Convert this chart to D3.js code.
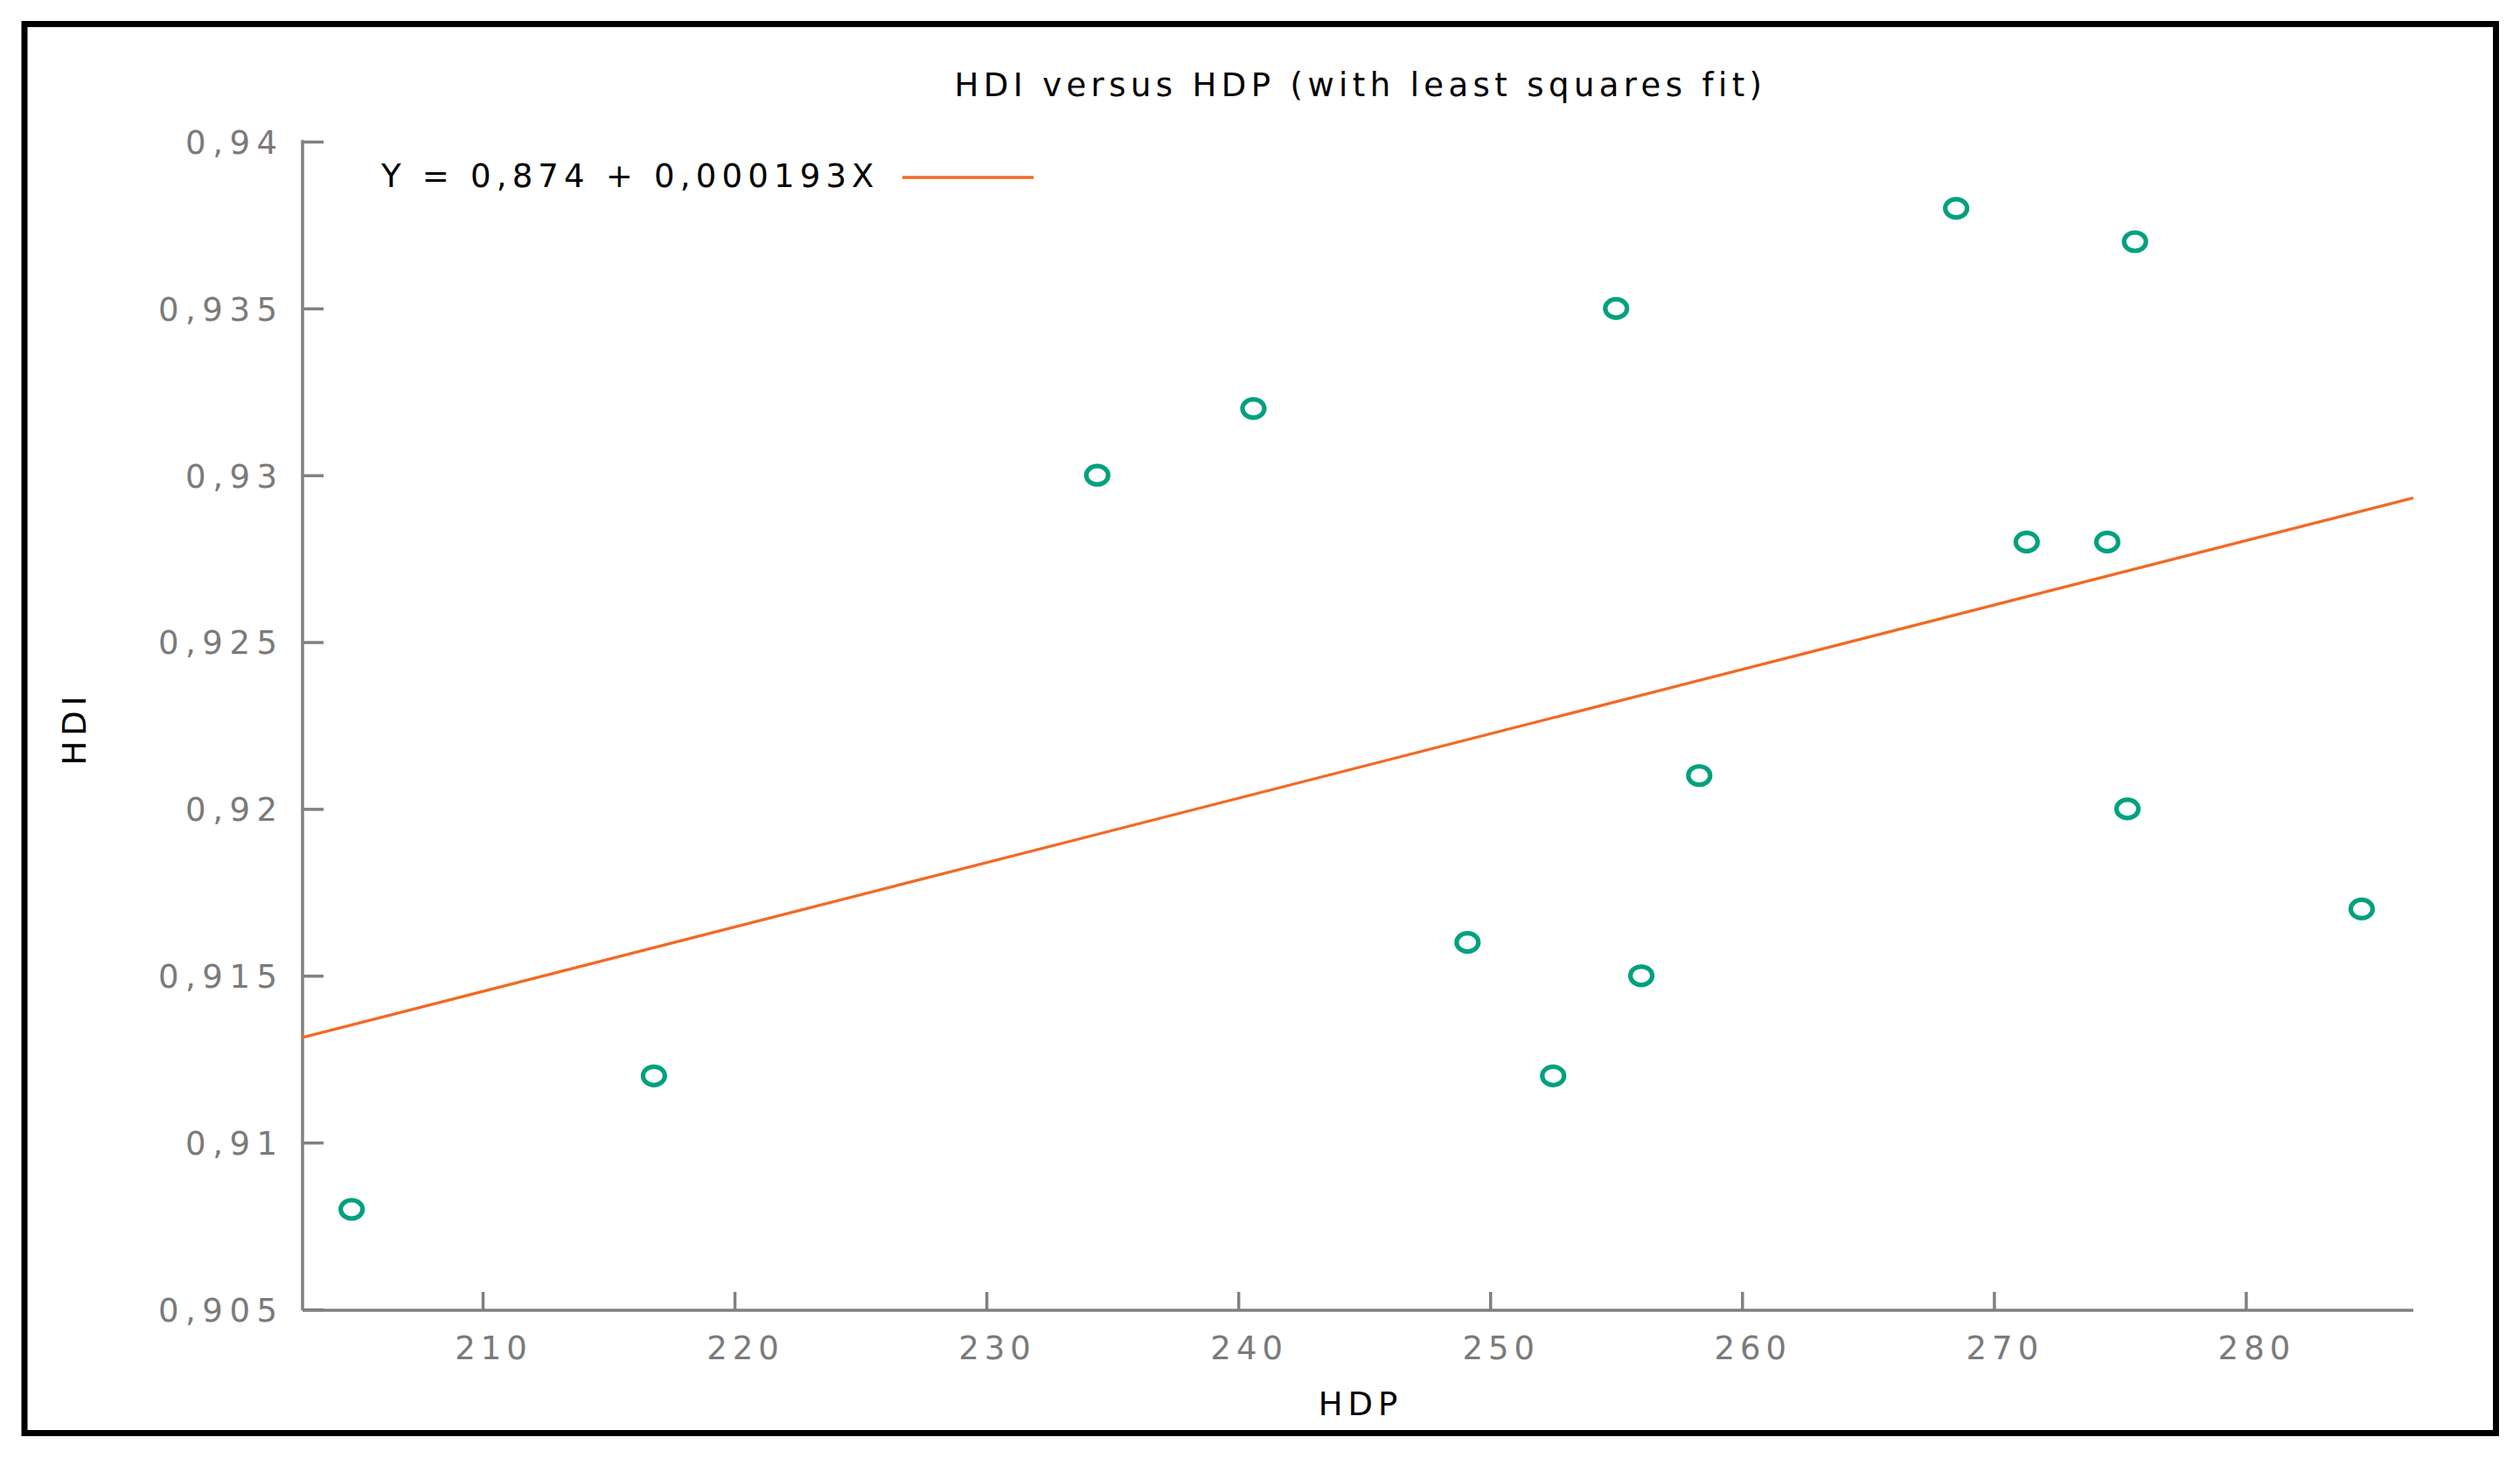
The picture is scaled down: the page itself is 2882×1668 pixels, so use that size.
<!DOCTYPE html>
<html>
<head>
<meta charset="utf-8">
<script src="https://cdn.jsdelivr.net/npm/d3@7"></script>
<style>
  html, body { margin: 0; padding: 0; background: #ffffff; }
  svg { display: block; }
  text { font-family: "DejaVu Sans", Verdana, sans-serif; }
</style>
</head>
<body>
<script>
// ---- data ----
const hdp = [204.8, 216.8, 234.4, 240.6, 249.1, 252.5, 255.0, 256.0, 258.3, 268.5, 271.3, 274.5, 275.3, 275.6, 284.6];
const hdi = [0.908, 0.912, 0.930, 0.932, 0.916, 0.912, 0.935, 0.915, 0.921, 0.938, 0.928, 0.928, 0.920, 0.937, 0.917];
const fitIntercept = 0.874;
const fitSlope = 0.000193;
const xTicks = [210, 220, 230, 240, 250, 260, 270, 280];
const xTickLabels = ["210", "220", "230", "240", "250", "260", "270", "280"];
const yTicks = [0.905, 0.91, 0.915, 0.92, 0.925, 0.93, 0.935, 0.94];
const yTickLabels = ["0,905", "0,91", "0,915", "0,92", "0,925", "0,93", "0,935", "0,94"];
const titleText = "HDI versus HDP (with least squares fit)";
const legendText = "Y = 0,874 + 0,000193X";
const xLabel = "HDP";
const yLabel = "HDI";

// ---- layout ----
const W = 2882, H = 1668;
const plotLeft = 346, plotRight = 2760, plotTop = 162, plotBottom = 1499;
const axisColor = "#808080";
const pointColor = "#00a17f";
const lineColor = "#f26a24";
const fontSize = 37;

const svg = d3.select("body").append("svg")
  .attr("width", W).attr("height", H).attr("viewBox", `0 0 ${W} ${H}`);

svg.append("rect").attr("x", 0).attr("y", 0).attr("width", W).attr("height", H).attr("fill", "#fff");

// frame
svg.append("rect")
  .attr("x", 28).attr("y", 27.5).attr("width", 2826.5).attr("height", 1612)
  .attr("fill", "none").attr("stroke", "#000").attr("stroke-width", 7);

const x = d3.scaleLinear().domain([202.85, 286.65]).range([plotLeft, plotRight]);
const y = d3.scaleLinear().domain([0.905, 0.94]).range([1498, plotTop]);

// axes
const xAxis = d3.axisBottom(x).tickValues(xTicks).tickSize(-21).tickPadding(0)
  .tickFormat((d, i) => xTickLabels[i]);
const yAxis = d3.axisLeft(y).tickValues(yTicks).tickSize(-24).tickPadding(0)
  .tickFormat((d, i) => yTickLabels[i]);

const gx = svg.append("g").attr("transform", `translate(0,${plotBottom})`).call(xAxis);
const gy = svg.append("g").attr("transform", `translate(${plotLeft},0)`).call(yAxis);

[gx, gy].forEach(g => {
  g.select(".domain").remove();
  g.selectAll(".tick line").attr("stroke", axisColor).attr("stroke-width", 3.5);
  g.selectAll(".tick text")
    .attr("fill", "#7a7a7a")
    .attr("font-size", fontSize)
    .attr("font-family", "DejaVu Sans, Verdana, sans-serif");
});
gx.selectAll(".tick text").attr("y", 56).attr("dy", 0).attr("dx", 12).attr("letter-spacing", 6);
gy.selectAll(".tick text").attr("x", -29 + 7.5).attr("dy", "0.36em").attr("letter-spacing", 7.5);

// axis lines (left & bottom border)
svg.append("line")
  .attr("x1", plotLeft).attr("x2", plotLeft)
  .attr("y1", plotTop - 1.75).attr("y2", plotBottom)
  .attr("stroke", axisColor).attr("stroke-width", 3.5);
svg.append("line")
  .attr("x1", plotLeft).attr("x2", plotRight)
  .attr("y1", plotBottom).attr("y2", plotBottom)
  .attr("stroke", axisColor).attr("stroke-width", 3.5);

// fit line
const xd = x.domain();
const fitData = xd.map(v => [v, fitIntercept + fitSlope * v]);
svg.append("path")
  .datum(fitData)
  .attr("d", d3.line().x(d => x(d[0])).y(d => y(d[1])))
  .attr("fill", "none").attr("stroke", lineColor).attr("stroke-width", 3.3);

// points
svg.append("g").selectAll("ellipse")
  .data(hdp.map((v, i) => [v, hdi[i]]))
  .join("ellipse")
  .attr("cx", d => x(d[0])).attr("cy", d => y(d[1]))
  .attr("rx", 12.5).attr("ry", 10.5)
  .attr("fill", "none").attr("stroke", pointColor).attr("stroke-width", 5.2);

// title
svg.append("text")
  .attr("x", 1553 + 3).attr("y", 110)
  .attr("text-anchor", "middle")
  .attr("font-size", fontSize).attr("letter-spacing", 5.4)
  .attr("fill", "#000").text(titleText);

// legend
svg.append("text")
  .attr("x", 436).attr("y", 214)
  .attr("font-size", fontSize).attr("letter-spacing", 6.2)
  .attr("fill", "#000").text(legendText);
svg.append("line")
  .attr("x1", 1032).attr("x2", 1182).attr("y1", 203).attr("y2", 203)
  .attr("stroke", lineColor).attr("stroke-width", 3.3);

// axis labels
svg.append("text")
  .attr("x", 1553 + 3).attr("y", 1619)
  .attr("text-anchor", "middle")
  .attr("font-size", fontSize).attr("letter-spacing", 6)
  .attr("fill", "#000").text(xLabel);
svg.append("text")
  .attr("transform", `translate(98,${830 + 3}) rotate(-90)`)
  .attr("text-anchor", "middle")
  .attr("font-size", fontSize).attr("letter-spacing", 6)
  .attr("fill", "#000").text(yLabel);
</script>
</body>
</html>
